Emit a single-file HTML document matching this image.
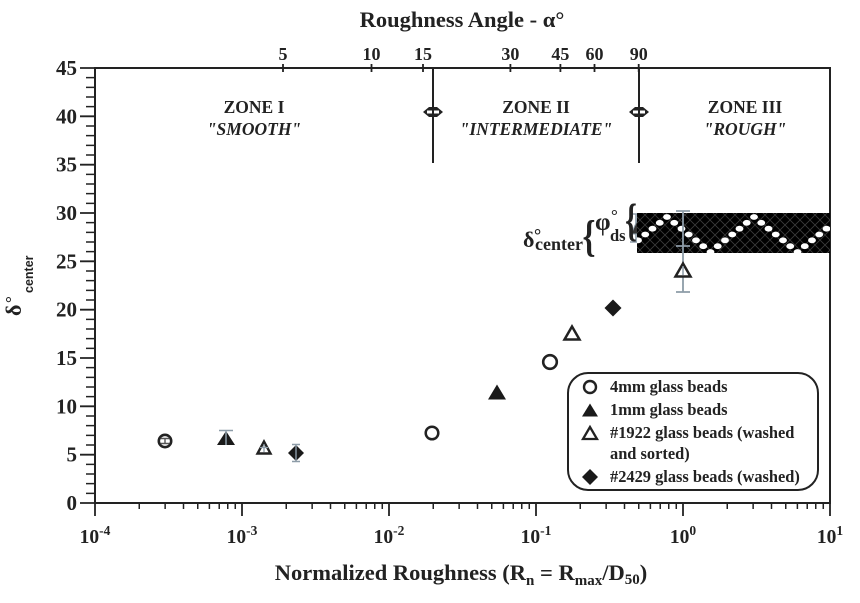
<!DOCTYPE html>
<html><head><meta charset="utf-8">
<style>html,body{margin:0;padding:0;background:#fff;}svg{display:block;}</style></head>
<body>
<svg width="860" height="603" viewBox="0 0 860 603" xmlns="http://www.w3.org/2000/svg" font-family="'Liberation Serif', 'DejaVu Serif', serif" font-weight="bold" fill="#222">
<defs>
<pattern id="hatch" width="10" height="10" patternUnits="userSpaceOnUse">
<path d="M0 0L10 10M10 0L0 10" stroke="#3c3c3c" stroke-width="0.8" fill="none"/>
</pattern>
<clipPath id="bandclip"><rect x="637" y="213" width="193" height="42"/></clipPath>
</defs>

<!-- Title -->
<text x="462" y="27" font-size="22.5" text-anchor="middle">Roughness Angle - α°</text>

<!-- Top tick labels -->
<g font-size="18" text-anchor="middle">
<text x="283" y="60">5</text>
<text x="371.5" y="60">10</text>
<text x="423" y="60">15</text>
<text x="510.4" y="60">30</text>
<text x="560.4" y="60">45</text>
<text x="594.5" y="60">60</text>
<text x="638.7" y="60">90</text>
</g>

<!-- Frame -->
<rect x="95" y="68" width="735" height="435" fill="none" stroke="#222" stroke-width="2"/>

<!-- Top ticks -->
<path d="M283 64V72M371.5 64V72M423 64V72M510.4 64V72M560.4 64V72M594.5 64V72M638.7 64V72" stroke="#222" stroke-width="1.8"/>

<!-- Y major ticks -->
<path d="M80 503H95M80 454.67H95M80 406.33H95M80 358H95M80 309.67H95M80 261.33H95M80 213H95M80 164.67H95M80 116.33H95M80 68H95" stroke="#222" stroke-width="1.8"/>
<!-- Y minor ticks -->
<path d="M86 493.33H95M86 483.67H95M86 474H95M86 464.33H95M86 445H95M86 435.33H95M86 425.67H95M86 416H95M86 396.67H95M86 387H95M86 377.33H95M86 367.67H95M86 348.33H95M86 338.67H95M86 329H95M86 319.33H95M86 300H95M86 290.33H95M86 280.67H95M86 271H95M86 251.67H95M86 242H95M86 232.33H95M86 222.67H95M86 203.33H95M86 193.67H95M86 184H95M86 174.33H95M86 155H95M86 145.33H95M86 135.67H95M86 126H95M86 106.67H95M86 97H95M86 87.33H95M86 77.67H95" stroke="#222" stroke-width="1.5"/>

<!-- Y labels -->
<g font-size="21" text-anchor="end">
<text x="77" y="510">0</text>
<text x="77" y="461.7">5</text>
<text x="77" y="413.3">10</text>
<text x="77" y="365">15</text>
<text x="77" y="316.7">20</text>
<text x="77" y="268.3">25</text>
<text x="77" y="220">30</text>
<text x="77" y="171.7">35</text>
<text x="77" y="123.3">40</text>
<text x="77" y="75">45</text>
</g>

<!-- X major ticks -->
<path d="M95 503V516M242 503V516M389 503V516M536 503V516M683 503V516M830 503V516" stroke="#222" stroke-width="1.8"/>
<!-- X minor ticks -->
<path d="M139.25 503V509M165.14 503V509M183.5 503V509M197.75 503V509M209.39 503V509M219.23 503V509M227.75 503V509M235.27 503V509
M286.25 503V509M312.14 503V509M330.5 503V509M344.75 503V509M356.39 503V509M366.23 503V509M374.75 503V509M382.27 503V509
M433.25 503V509M459.14 503V509M477.5 503V509M491.75 503V509M503.39 503V509M513.23 503V509M521.75 503V509M529.27 503V509
M580.25 503V509M606.14 503V509M624.5 503V509M638.75 503V509M650.39 503V509M660.23 503V509M668.75 503V509M676.27 503V509
M727.25 503V509M753.14 503V509M771.5 503V509M785.75 503V509M797.39 503V509M807.23 503V509M815.75 503V509M823.27 503V509" stroke="#222" stroke-width="1.5"/>

<!-- X labels -->
<g font-size="19.5" text-anchor="middle">
<text x="95" y="543">10<tspan dy="-8" font-size="13.5">-4</tspan></text>
<text x="242" y="543">10<tspan dy="-8" font-size="13.5">-3</tspan></text>
<text x="389" y="543">10<tspan dy="-8" font-size="13.5">-2</tspan></text>
<text x="536" y="543">10<tspan dy="-8" font-size="13.5">-1</tspan></text>
<text x="683" y="543">10<tspan dy="-8" font-size="13.5">0</tspan></text>
<text x="830" y="543">10<tspan dy="-8" font-size="13.5">1</tspan></text>
</g>

<!-- X axis title -->
<text x="461" y="580" font-size="22.5" text-anchor="middle">Normalized Roughness (R<tspan font-size="15" dy="5">n</tspan><tspan dy="-5"> = R</tspan><tspan font-size="15" dy="5">max</tspan><tspan dy="-5">/D</tspan><tspan font-size="15" dy="4">50</tspan><tspan dy="-4">)</tspan></text>

<!-- Y axis title -->
<text transform="translate(21,316) rotate(-90)" font-size="22">δ</text>
<text transform="translate(17,303) rotate(-90)" font-size="17">°</text>
<text transform="translate(33,293) rotate(-90)" font-size="12.5" font-family="'Liberation Sans', sans-serif">center</text>

<!-- Zone lines -->
<path d="M433 68V163M639 68V163" stroke="#222" stroke-width="2"/>
<g fill="#222">
<path d="M423 112L429 107L437 107L443 112L437 117L429 117Z"/>
<path d="M629 112L635 107L643 107L649 112L643 117L635 117Z"/>
</g>
<g fill="#fff">
<rect x="427" y="110.5" width="12" height="3"/>
<rect x="633" y="110.5" width="12" height="3"/>
</g>
<path d="M433 106V118M639 106V118" stroke="#222" stroke-width="2"/>

<!-- Zone labels -->
<g text-anchor="middle" font-size="17.5">
<text x="254" y="113">ZONE I</text>
<text x="254" y="135" font-style="italic">"SMOOTH"</text>
<text x="536" y="113">ZONE II</text>
<text x="536" y="135" font-style="italic">"INTERMEDIATE"</text>
<text x="745" y="113">ZONE III</text>
<text x="745" y="135" font-style="italic">"ROUGH"</text>
</g>

<!-- small triangle at band edge -->
<path d="M630 214H643M636 214V242M630 242H643" stroke="#8d9ca8" stroke-width="1.6"/>
<polygon points="637,221 631,234 643,234" fill="#333" stroke="#8d9ca8" stroke-width="1"/>

<!-- Band -->
<rect x="637" y="213" width="193" height="40" fill="#000"/>
<rect x="637" y="213" width="193" height="40" fill="url(#hatch)"/>
<g fill="#fff" clip-path="url(#bandclip)">
<ellipse cx="638" cy="240.3" rx="3.9" ry="2.9"/>
<ellipse cx="645.25" cy="234.5" rx="3.9" ry="2.9"/>
<ellipse cx="652.5" cy="228.7" rx="3.9" ry="2.9"/>
<ellipse cx="659.75" cy="222.8" rx="3.9" ry="2.9"/>
<ellipse cx="667" cy="217" rx="3.9" ry="2.9"/>
<ellipse cx="674.25" cy="222.8" rx="3.9" ry="2.9"/>
<ellipse cx="681.5" cy="228.7" rx="3.9" ry="2.9"/>
<ellipse cx="688.75" cy="234.5" rx="3.9" ry="2.9"/>
<ellipse cx="696" cy="240.3" rx="3.9" ry="2.9"/>
<ellipse cx="703.25" cy="246.2" rx="3.9" ry="2.9"/>
<ellipse cx="710.5" cy="252" rx="3.9" ry="2.9"/>
<ellipse cx="717.75" cy="246.2" rx="3.9" ry="2.9"/>
<ellipse cx="725" cy="240.3" rx="3.9" ry="2.9"/>
<ellipse cx="732.25" cy="234.5" rx="3.9" ry="2.9"/>
<ellipse cx="739.5" cy="228.7" rx="3.9" ry="2.9"/>
<ellipse cx="746.75" cy="222.8" rx="3.9" ry="2.9"/>
<ellipse cx="754" cy="217" rx="3.9" ry="2.9"/>
<ellipse cx="761.25" cy="222.8" rx="3.9" ry="2.9"/>
<ellipse cx="768.5" cy="228.7" rx="3.9" ry="2.9"/>
<ellipse cx="775.75" cy="234.5" rx="3.9" ry="2.9"/>
<ellipse cx="783" cy="240.3" rx="3.9" ry="2.9"/>
<ellipse cx="790.25" cy="246.2" rx="3.9" ry="2.9"/>
<ellipse cx="797.5" cy="252" rx="3.9" ry="2.9"/>
<ellipse cx="804.75" cy="246.2" rx="3.9" ry="2.9"/>
<ellipse cx="812" cy="240.3" rx="3.9" ry="2.9"/>
<ellipse cx="819.25" cy="234.5" rx="3.9" ry="2.9"/>
<ellipse cx="826.5" cy="228.7" rx="3.9" ry="2.9"/>
</g>

<!-- delta/phi annotation -->
<text x="523" y="247" font-size="22">δ</text>
<text x="534" y="241" font-size="18">°</text>
<text x="535" y="250" font-size="18">center</text>
<text transform="translate(589,251) scale(0.75,1)" font-size="44" text-anchor="middle">{</text>
<text x="595" y="230" font-size="25">φ</text>
<text x="611" y="221" font-size="17">°</text>
<text x="610" y="241" font-size="16.5">ds</text>
<text transform="translate(631,235) scale(0.65,1)" font-size="46" text-anchor="middle">{</text>

<!-- error bar at Rn = 1 -->
<path d="M683 211V292M676 211H690M676 246H690M676 292H690" stroke="#8d9ca8" stroke-width="1.8"/>
<polygon points="683,263.5 675.5,276.5 690.5,276.5" fill="#fff" stroke="#222" stroke-width="2.5" stroke-linejoin="miter"/>
<path d="M683 266V275" stroke="#8d9ca8" stroke-width="1.5"/>

<!-- Data points -->
<circle cx="165" cy="441" r="6.2" fill="#fff" stroke="#222" stroke-width="2.6"/>
<path d="M160.5 438.5H169.5M160.5 443.5H169.5M165 438.5V443.5" stroke="#555" stroke-width="1.4"/>
<polygon points="226,431 217,445 235,445" fill="#1a1a1a"/>
<path d="M219 430.5H233M226 430.5V445" stroke="#8d9ca8" stroke-width="1.5"/>
<polygon points="264,441.5 257.5,453.5 270.5,453.5" fill="#fff" stroke="#222" stroke-width="2.4"/>
<path d="M260 447.5H268M264 444V452" stroke="#8d9ca8" stroke-width="1.3"/>
<polygon points="296,445 304,453 296,461 288,453" fill="#1a1a1a"/>
<path d="M296 444V462M292 444.5H300M292 461.5H300" stroke="#8d9ca8" stroke-width="1.4"/>
<circle cx="432" cy="433" r="6.3" fill="#fff" stroke="#222" stroke-width="2.5"/>
<polygon points="497,384.5 488,399.5 506,399.5" fill="#1a1a1a"/>
<circle cx="550" cy="362" r="6.8" fill="#fff" stroke="#222" stroke-width="2.6"/>
<polygon points="572,326.5 564.5,339.5 579.5,339.5" fill="#fff" stroke="#222" stroke-width="2.5"/>
<polygon points="613,299.5 621.5,308 613,316.5 604.5,308" fill="#1a1a1a"/>

<!-- Legend -->
<rect x="568" y="373" width="250" height="117" rx="20" ry="20" fill="#fff" stroke="#222" stroke-width="2"/>
<circle cx="590" cy="387" r="6" fill="#fff" stroke="#222" stroke-width="2.4"/>
<polygon points="590,403.5 582,416.5 598,416.5" fill="#1a1a1a"/>
<polygon points="590,427 583,439 597,439" fill="#fff" stroke="#222" stroke-width="2.3"/>
<polygon points="590,469 598,477 590,485 582,477" fill="#1a1a1a"/>
<g font-size="16.4">
<text x="610" y="392">4mm glass beads</text>
<text x="610" y="415">1mm glass beads</text>
<text x="610" y="438">#1922 glass beads (washed</text>
<text x="610" y="459">and sorted)</text>
<text x="610" y="482">#2429 glass beads (washed)</text>
</g>
</svg>
</body></html>
